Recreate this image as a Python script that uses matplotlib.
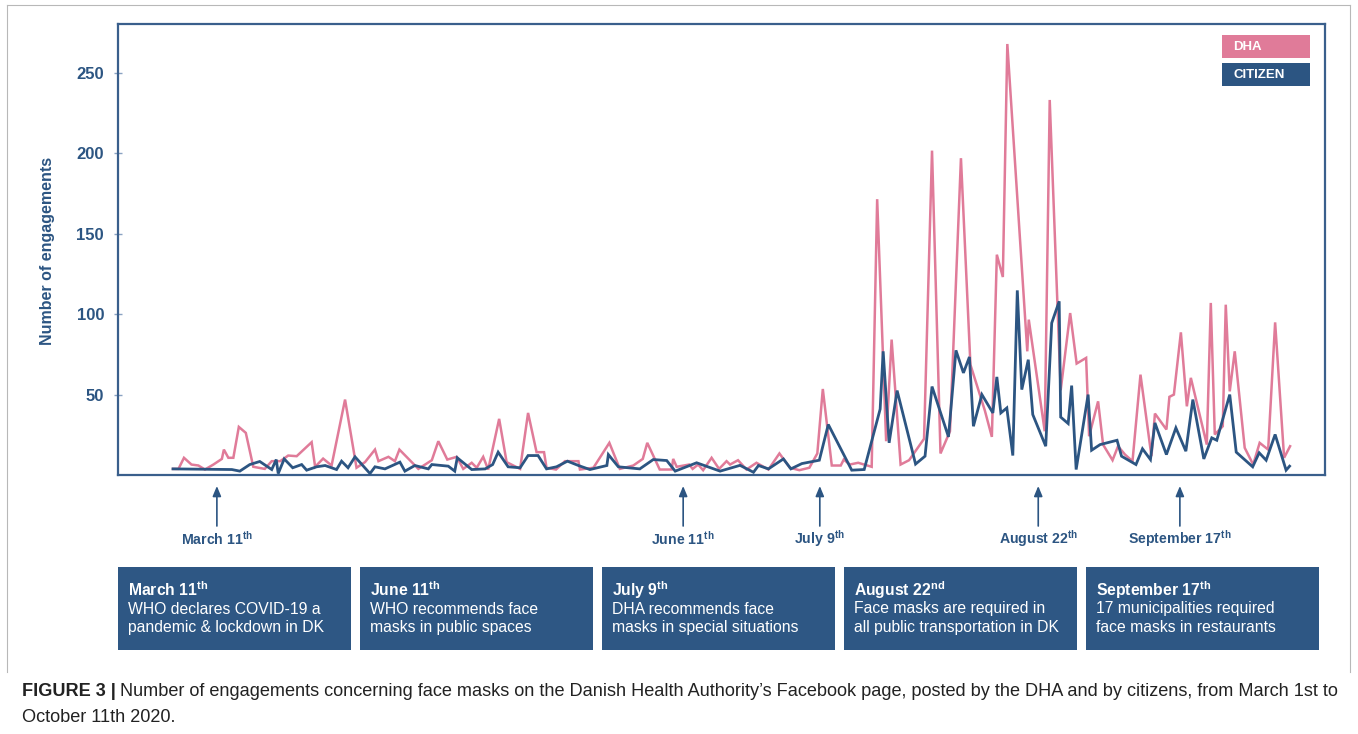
import matplotlib
matplotlib.use('Agg')
import matplotlib.pyplot as plt
from matplotlib.patches import Rectangle
from matplotlib.lines import Line2D

plt.rcParams['font.family'] = ['Liberation Sans', 'DejaVu Sans']
plt.rcParams['mathtext.fontset'] = 'custom'
plt.rcParams['mathtext.rm'] = 'Liberation Sans'
plt.rcParams['mathtext.bf'] = 'Liberation Sans:bold'
plt.rcParams['mathtext.it'] = 'Liberation Sans:italic'

# ---------------- data (day 0 = March 1st 2020) ----------------
dha_days = [0, 1.1, 2.2, 3.7, 5.1, 6.4, 8.1, 9.8, 10.2, 11.1, 12.1, 13.2, 14.6, 16.1, 18.4,
            19.8, 21.5, 23.1, 24.8, 27.8, 28.5, 30.1, 31.8, 34.5, 36.8, 38.5, 40.5, 41.2,
            43.2, 44.5, 45.4, 49.2, 51.9, 53.2, 55.0, 56.9, 58.2, 59.9, 60.9, 62.2, 63.2,
            65.4, 66.9, 69.6, 71.2, 72.9, 74.4, 74.9, 76.8, 78.6, 81.3, 81.6, 84.3, 87.5,
            89.6, 92.3, 94.2, 95.1, 97.6, 100.0, 100.3, 101.0, 103.5, 104.2, 105.3, 106.3,
            108.0, 109.5, 111.0, 111.7, 113.3, 115.0, 117.0, 119.4, 121.6, 123.7, 125.6,
            127.6, 129.2, 130.3, 132.1, 133.9, 134.5, 135.7, 137.4, 140.1, 141.2, 143.0,
            144.1, 145.9, 147.6, 150.6, 152.2, 153.9, 155.8, 158.0, 159.9, 162.8, 164.2, 165.2,
            166.4, 167.3, 171.3, 171.6, 174.8, 175.8, 178.0, 179.9, 181.2, 183.1, 183.7,
            185.5, 186.5, 188.4, 189.5, 190.9, 192.4, 194.0, 196.2, 196.9, 199.2, 199.8,
            200.7, 202.1, 203.3, 204.1, 207.3, 208.1, 208.9, 210.5, 211.1, 211.9, 212.9,
            214.9, 216.6, 217.9, 219.6, 221.0, 222.8, 224.0]
dha_values = [3.8, 3.8, 10.7, 6.5, 5.9, 3.4, 6.5, 10, 15.8, 10.7, 10.7, 29.9, 26.2, 5.1, 3.8,
              8.6, 8.6, 12.1, 11.7, 20.4, 5.1, 10.2, 5.9, 46.9, 4.5, 8, 15.8, 8.6,
              11.3, 8.6, 15.8, 3.8, 9.2, 21, 9.6, 11.3, 3.8, 7.6, 4.5, 11.3, 3.4,
              34.9, 8, 3.8, 38.6, 14.2, 14.2, 4.5, 3.4, 8.6, 8.6, 3.4, 4.5, 20,
              3.8, 5.9, 10, 20, 3.4, 3.4, 10, 5.1, 6.5, 3.8, 6.5, 3,
              10.7, 3.8, 8.6, 6.5, 9.2, 3.4, 7.6, 3.4, 13.4, 4.5, 3,
              4.5, 13.4, 53.5, 5.9, 5.9, 9.6, 6.5, 7.6, 5.1, 171.5, 21,
              84.2, 6.5, 9.2, 22.5, 201.7, 13.4, 27.2, 197, 68.6, 40, 23.7, 137,
              123.1, 268, 76.9, 96.6, 27.2, 233.2, 52.7, 100.7, 69.3, 72.8, 24.1,
              45.8, 18.9, 9.2, 17.9, 12.7, 8.6, 62.4, 11.7, 38.2, 28.3, 48.6,
              50, 88.7, 42.7, 60.4, 18.9, 107, 25.2, 30.3, 105.9, 52, 76.9,
              16.9, 6.5, 20, 15.8, 94.9, 10.7, 17.9]

citizen_days = [0, 11.8, 13.4, 15.4, 17.4, 19.8, 20.7, 21.1, 22.3, 24.0, 25.8, 26.8, 28.8,
                30.5, 32.8, 33.8, 35.1, 36.5, 39.5, 40.5, 42.5, 45.5, 46.5, 48.5, 51.2,
                51.9, 55.2, 56.5, 57.0, 59.9, 62.6, 64.1, 65.2, 67.2, 69.6, 71.2, 73.2,
                74.9, 76.9, 79.1, 81.3, 83.6, 87.0, 87.3, 89.3, 93.6, 96.3, 99.0, 100.7,
                105.0, 109.7, 113.7, 116.4, 117.4, 119.4, 122.4, 123.9, 126.1, 129.6,
                131.4, 136.1, 138.6, 141.8, 142.4, 143.6, 145.2, 148.9, 150.8, 152.2,
                155.5, 157.0, 158.5, 159.7, 160.5, 162.2, 164.4, 165.2, 166.0, 167.2,
                168.4, 169.3, 170.2, 171.5, 172.4, 175.0, 176.2, 177.7, 178.0, 179.5,
                180.2, 181.1, 183.5, 184.2, 185.9, 189.3, 190.2, 193.1, 194.4, 196.0,
                196.9, 199.2, 201.1, 203.1, 204.5, 206.7, 208.3, 209.3, 211.9, 213.2,
                216.5, 217.8, 219.2, 221.0, 223.2, 223.9]
citizen_values = [3.8, 3.4, 2.4, 6.5, 8.4, 3.4, 9.6, 0.9, 10, 4.5, 6.5, 3, 5.1,
                  5.9, 3.4, 8.6, 4.5, 11.3, 0.9, 5.1, 3.8, 8, 2.4, 5.9, 3.8,
                  6.5, 5.5, 2.4, 10.7, 3.4, 3.8, 6.5, 14.2, 5.1, 4.5, 12.1, 12.1,
                  3.8, 5.1, 8.6, 5.9, 3.4, 5.9, 12.7, 5.1, 3.8, 9.6, 9, 2.4,
                  7.6, 2.4, 6, 1.7, 5.9, 3.8, 10, 3.8, 7.1, 9.2,
                  31.4, 3, 3.4, 41, 76.9, 20, 52.5, 6.8, 11.7, 55,
                  23.7, 77.5, 63.5, 73.4, 30.3, 50, 38.6, 61, 38.6, 41.7,
                  12.1, 114.8, 53.1, 71.7, 37.6, 17.9, 94.5, 108, 36, 32,
                  55.6, 3.4, 50, 15.4, 18.9, 21.6, 11.7, 6.5, 16.3, 9.6,
                  32.4, 12.7, 29.3, 14.8, 46.9, 10, 23.1, 21.6, 50, 14.2,
                  5.1, 13.8, 9.2, 25.2, 3, 5.5]

series_names = ['DHA', 'CITIZEN']
y_ticks = [50, 100, 150, 200, 250]

event_x = [8.8, 102.3, 129.7, 173.5, 201.9]
event_labels = ['March 11', 'June 11', 'July 9', 'August 22', 'September 17']
event_label_sup = ['th', 'th', 'th', 'th', 'th']
box_titles = ['March 11', 'June 11', 'July 9', 'August 22', 'September 17']
box_title_sup = ['th', 'th', 'th', 'nd', 'th']
box_texts = ['WHO declares COVID-19 a\npandemic & lockdown in DK',
             'WHO recommends face\nmasks in public spaces',
             'DHA recommends face\nmasks in special situations',
             'Face masks are required in\nall public transportation in DK',
             '17 municipalities required\nface masks in restaurants']

caption_bold = 'FIGURE 3 |'
caption_line1 = ('Number of engagements concerning face masks on the Danish Health '
                 'Authority\u2019s Facebook page, posted by the DHA and by citizens, from March 1st to')
caption_line2 = 'October 11th 2020.'

# ---------------- styling ----------------
PINK = '#e07b99'
BLUE = '#2c5582'
BOX = '#2e5784'
SPINE = '#3a5f8c'
TICKC = '#8aa3c2'

W, H = 1358, 734
fig = plt.figure(figsize=(W / 100, H / 100), dpi=100)
fig.patch.set_facecolor('white')


def fx(px):
    return px / W


def fy(py):
    return 1 - py / H


# light frame around the figure panel
for (x0, y0, x1, y1) in [(7, 5, 1350, 5), (7, 5, 7, 672), (1350, 5, 1350, 672)]:
    fig.add_artist(Line2D([fx(x0), fx(x1)], [fy(y0), fy(y1)], transform=fig.transFigure,
                          color='#b8b8b8', lw=0.8))

ax = fig.add_axes([fx(118), fy(475), fx(1325) - fx(118), fy(24) - fy(475)])
ax.plot(dha_days, dha_values, color=PINK, lw=1.8, zorder=2, solid_joinstyle='miter')
ax.plot(citizen_days, citizen_values, color=BLUE, lw=2.0, zorder=3, solid_joinstyle='miter')

x0_day = (118 - 173) / 4.987
x1_day = (1325 - 173) / 4.987
ax.set_xlim(x0_day, x1_day)
ax.set_ylim(0, (475.5 - 24) / 1.61)
ax.set_xticks([])
ax.set_yticks(y_ticks)
ax.tick_params(axis='y', direction='inout', length=6, width=1, color=TICKC, pad=7,
               labelsize=12, labelcolor=BLUE)
for lab in ax.get_yticklabels():
    lab.set_fontweight('bold')
for s in ax.spines.values():
    s.set_color(SPINE)
    s.set_linewidth(1.6)

fig.text(fx(48), fy(251), 'Number of engagements', rotation=90, ha='center', va='center',
         fontsize=11.5, fontweight='bold', color=BLUE)

# legend boxes
colors = [PINK, BLUE]
leg_top = [35, 63]
for name, c, top in zip(series_names, colors, leg_top):
    fig.add_artist(Rectangle((fx(1222), fy(top + 23)), fx(88), 23 / H, transform=fig.transFigure,
                             facecolor=c, edgecolor='none'))
    fig.text(fx(1233), fy(top + 11.5), name, ha='left', va='center', fontsize=9.5,
             fontweight='bold', color='white')

# event arrows and labels
for x, lab, sup in zip(event_x, event_labels, event_label_sup):
    ax.annotate('', xy=(x, fy(486)), xycoords=('data', 'figure fraction'),
                xytext=(x, fy(526)), textcoords=('data', 'figure fraction'),
                arrowprops=dict(arrowstyle='-|>,head_length=0.6,head_width=0.25',
                                color=BLUE, lw=1.2, shrinkA=0, shrinkB=0),
                annotation_clip=False)
    ax.annotate(lab + r'$^{\mathbf{' + sup + '}}$', xy=(x, fy(539)),
                xycoords=('data', 'figure fraction'), ha='center', va='center',
                fontsize=10.2, fontweight='bold', color=BLUE, annotation_clip=False)

# event boxes
box_left = [118, 360, 602, 844, 1086]
for left, title, sup, txt in zip(box_left, box_titles, box_title_sup, box_texts):
    fig.add_artist(Rectangle((fx(left), fy(650)), fx(233), 83 / H, transform=fig.transFigure,
                             facecolor=BOX, edgecolor='none'))
    fig.text(fx(left + 10), fy(590), title + r'$^{\mathbf{' + sup + '}}$', ha='left',
             va='center', fontsize=11.3, fontweight='bold', color='white')
    lines = txt.split('\n')
    for i, ln in enumerate(lines):
        fig.text(fx(left + 10), fy(609 + 18.5 * i), ln, ha='left', va='center',
                 fontsize=11.3, color='white')

# caption
fig.canvas.draw()
r = fig.canvas.get_renderer()
tb = fig.text(fx(22), fy(692), caption_bold, ha='left', va='center', fontsize=13.1,
              fontweight='bold', color='#222222')
bb = tb.get_window_extent(renderer=r)
fig.text(bb.x1 / W + fx(4), fy(692), caption_line1, ha='left', va='center', fontsize=13.1,
         color='#222222')
fig.text(fx(22), fy(718), caption_line2, ha='left', va='center', fontsize=13.1, color='#222222')

fig.savefig('out.png', dpi=100)
